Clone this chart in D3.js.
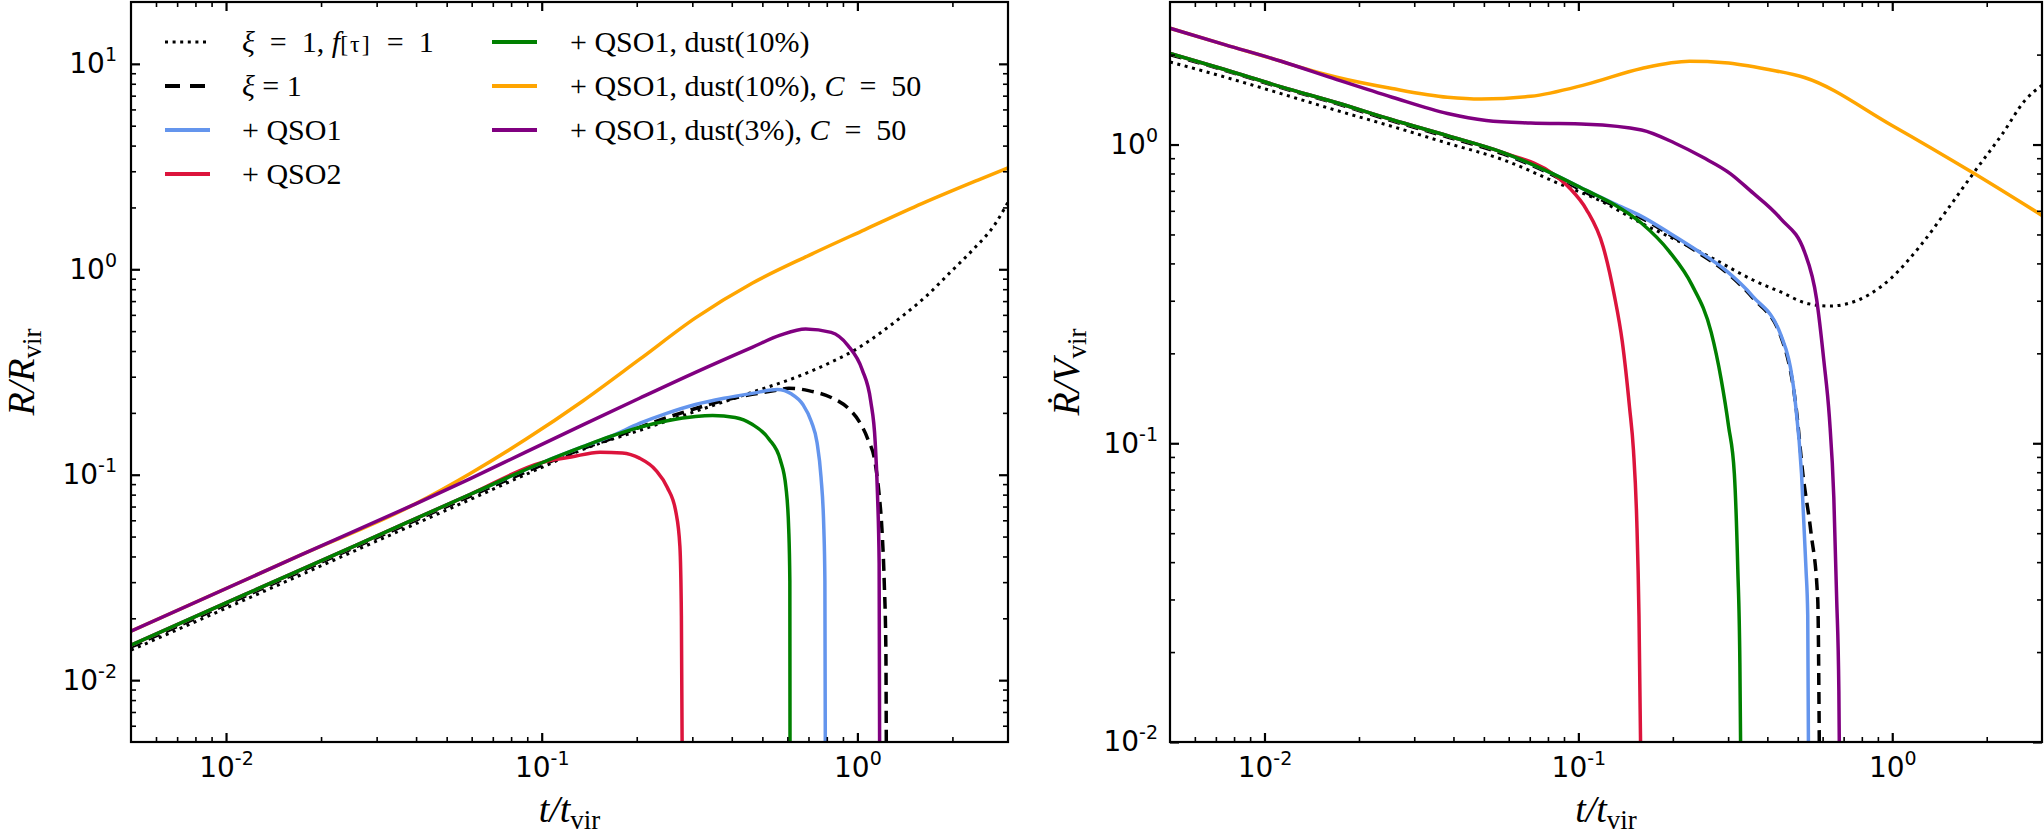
<!DOCTYPE html>
<html><head><meta charset="utf-8">
<script src="https://cdn.jsdelivr.net/npm/d3@7"></script>
<style>body{margin:0;background:#fff}svg{display:block}</style>
</head><body>
<svg id="chart" width="2044" height="836"></svg>
<script>
// ---------------- DATA ----------------
// Left panel: R / R_vir vs t / t_vir
const tL_dot   = [0.005, 0.0114, 0.026, 0.0592, 0.101, 0.135, 0.204, 0.307, 0.464, 0.645, 0.826, 1.015, 1.196, 1.411, 1.663, 1.961, 2.312, 2.727, 3.0];
const rL_dot   = [0.0140, 0.0245, 0.0431, 0.0756, 0.1093, 0.1327, 0.1643, 0.2034, 0.2519, 0.2998, 0.353, 0.4171, 0.4966, 0.6031, 0.7464, 0.9605, 1.236, 1.654, 2.12];
const tL_dash  = [0.005, 0.0114, 0.026, 0.0592, 0.101, 0.135, 0.166, 0.204, 0.25, 0.307, 0.378, 0.464, 0.558, 0.606, 0.70, 0.826, 0.934, 1.015, 1.079, 1.139, 1.172, 1.196, 1.216, 1.231, 1.236];
const rL_dash  = [0.0145, 0.0255, 0.0448, 0.0785, 0.112, 0.134, 0.150, 0.170, 0.190, 0.210, 0.230, 0.246, 0.258, 0.2638, 0.2567, 0.2376, 0.211, 0.181, 0.1491, 0.1136, 0.0801, 0.0544, 0.0304, 0.01398, 0.003];
const tL_blue  = [0.005, 0.0114, 0.026, 0.0592, 0.101, 0.135, 0.166, 0.204, 0.25, 0.307, 0.378, 0.464, 0.558, 0.619, 0.672, 0.715, 0.745, 0.767, 0.783, 0.789, 0.792];
const rL_blue  = [0.0148, 0.026, 0.0456, 0.0801, 0.115, 0.137, 0.154, 0.1776, 0.1995, 0.2198, 0.2357, 0.2489, 0.2598, 0.247, 0.2198, 0.1811, 0.1434, 0.0973, 0.0544, 0.0304, 0.003];
const tL_red   = [0.005, 0.0114, 0.026, 0.0592, 0.101, 0.124, 0.153, 0.18, 0.204, 0.23, 0.25, 0.266, 0.274, 0.277, 0.279];
const rL_red   = [0.0148, 0.026, 0.0456, 0.0801, 0.115, 0.122, 0.1287, 0.1276, 0.1204, 0.1051, 0.0866, 0.066, 0.0448, 0.0206, 0.003];
const tL_green = [0.005, 0.0114, 0.026, 0.0592, 0.101, 0.135, 0.166, 0.204, 0.25, 0.307, 0.348, 0.41, 0.464, 0.525, 0.57, 0.594, 0.606, 0.611, 0.612];
const rL_green = [0.0148, 0.026, 0.0456, 0.0801, 0.115, 0.137, 0.154, 0.17, 0.183, 0.192, 0.194, 0.19, 0.176, 0.149, 0.118, 0.0866, 0.0544, 0.0304, 0.003];
const tL_orange = [0.005, 0.0172, 0.0392, 0.0592, 0.0893, 0.135, 0.204, 0.307, 0.464, 0.700, 1.057, 1.60, 2.41, 3.0];
const rL_orange = [0.0173, 0.0406, 0.0713, 0.1012, 0.1491, 0.2285, 0.364, 0.580, 0.855, 1.166, 1.561, 2.087, 2.719, 3.12];
const tL_purple = [0.005, 0.0172, 0.0392, 0.0592, 0.0893, 0.135, 0.204, 0.307, 0.464, 0.570, 0.686, 0.826, 0.934, 1.036, 1.102, 1.139, 1.158, 1.172, 1.177];
const rL_purple = [0.0173, 0.0406, 0.0713, 0.0954, 0.1292, 0.1748, 0.2357, 0.3152, 0.4171, 0.4777, 0.5123, 0.4927, 0.4252, 0.324, 0.2285, 0.1434, 0.0801, 0.0369, 0.003];

// Right panel: dR/dt / V_vir vs t / t_vir
const tR_dot   = [0.005, 0.00751, 0.0113, 0.0170, 0.0255, 0.0383, 0.0576, 0.0865, 0.120, 0.159, 0.212, 0.270, 0.360, 0.441, 0.541, 0.636, 0.718, 0.846, 0.995, 1.22, 1.50, 1.83, 2.25, 2.64, 3.0];
const vR_dot   = [1.89, 1.68, 1.48, 1.30, 1.15, 1.01, 0.889, 0.741, 0.641, 0.545, 0.471, 0.414, 0.352, 0.321, 0.293, 0.288, 0.293, 0.315, 0.358, 0.454, 0.607, 0.812, 1.09, 1.40, 1.58];
const tR_dash  = [0.005, 0.00751, 0.0113, 0.0170, 0.0255, 0.0383, 0.0576, 0.0830, 0.106, 0.130, 0.159, 0.195, 0.239, 0.293, 0.360, 0.441, 0.494, 0.519, 0.551, 0.579, 0.586];
const vR_dash  = [2.0, 1.77, 1.55, 1.37, 1.20, 1.06, 0.93, 0.79, 0.69, 0.625, 0.567, 0.5, 0.437, 0.377, 0.306, 0.229, 0.1316, 0.0791, 0.0502, 0.0299, 0.009];
const tR_blue  = [0.005, 0.00751, 0.0113, 0.0170, 0.0255, 0.0383, 0.0576, 0.0830, 0.106, 0.130, 0.159, 0.195, 0.239, 0.293, 0.360, 0.441, 0.490, 0.514, 0.531, 0.538, 0.541];
const vR_blue  = [2.02, 1.78, 1.56, 1.38, 1.21, 1.07, 0.940, 0.798, 0.702, 0.634, 0.575, 0.506, 0.442, 0.381, 0.3097, 0.2314, 0.140, 0.0791, 0.0382, 0.0265, 0.009];
const tR_red   = [0.005, 0.00751, 0.0113, 0.0170, 0.0255, 0.0383, 0.0576, 0.0830, 0.0938, 0.106, 0.120, 0.130, 0.138, 0.1456, 0.1498, 0.1535, 0.156, 0.158];
const vR_red   = [2.02, 1.78, 1.56, 1.38, 1.21, 1.07, 0.940, 0.798, 0.715, 0.607, 0.454, 0.315, 0.219, 0.1316, 0.0948, 0.055, 0.0265, 0.009];
const tR_green = [0.005, 0.00751, 0.0113, 0.0170, 0.0255, 0.0383, 0.0576, 0.0830, 0.106, 0.130, 0.159, 0.195, 0.230, 0.265, 0.285, 0.301, 0.314, 0.322, 0.327, 0.329];
const vR_green = [2.02, 1.78, 1.56, 1.38, 1.21, 1.07, 0.940, 0.798, 0.702, 0.630, 0.545, 0.438, 0.339, 0.235, 0.164, 0.114, 0.0791, 0.0382, 0.0184, 0.009];
const tR_orange = [0.005, 0.00751, 0.0113, 0.0128, 0.0170, 0.0255, 0.0383, 0.0491, 0.0705, 0.106, 0.159, 0.226, 0.293, 0.407, 0.525, 0.995, 1.83, 3.0];
const vR_orange = [2.45, 2.156, 1.90, 1.823, 1.68, 1.54, 1.44, 1.42, 1.45, 1.59, 1.797, 1.90, 1.88, 1.78, 1.677, 1.161, 0.798, 0.579];
const tR_purple = [0.005, 0.00751, 0.0113, 0.0170, 0.0255, 0.0383, 0.0509, 0.0705, 0.106, 0.159, 0.2033, 0.2492, 0.3055, 0.3523, 0.441, 0.525, 0.574, 0.6055, 0.6306, 0.6514, 0.6649, 0.676, 0.6787];
const vR_purple = [2.45, 2.156, 1.90, 1.65, 1.44, 1.27, 1.204, 1.18, 1.17, 1.119, 1.01, 0.906, 0.798, 0.702, 0.565, 0.438, 0.304, 0.189, 0.122, 0.0659, 0.0307, 0.0148, 0.009];

// Ticks
const xTickVals = [0.01, 0.1, 1];
const xTickExps = ["-2", "-1", "0"];
const yLTickVals = [0.01, 0.1, 1, 10];
const yLTickExps = ["-2", "-1", "0", "1"];
const yRTickVals = [0.01, 0.1, 1];
const yRTickExps = ["-2", "-1", "0"];

// Legend labels (rich text pieces: [text, style])
const legendLabels = [
  [["ξ", "i"], ["\u2002=\u20021, ", "r"], ["f", "i"], ["[τ]", "s"], ["\u2002=\u20021", "r"]],
  [["ξ", "i"], [" = 1", "r"]],
  [["+ QSO1", "r"]],
  [["+ QSO2", "r"]],
  [["+ QSO1, dust(10%)", "r"]],
  [["+ QSO1, dust(10%), ", "r"], ["C", "i"], ["\u2002=\u200250", "r"]],
  [["+ QSO1, dust(3%), ", "r"], ["C", "i"], ["\u2002=\u200250", "r"]]
];

// ---------------- STYLE ----------------
const styles = [
  {color: "#000", width: 3, dash: "3,4.6", lw: 3, ldash: "3,4.6"},
  {color: "#000", width: 3.5, dash: "12,7", lw: 4, ldash: "15,10"},
  {color: "#6495ED", width: 3.5},
  {color: "#DC143C", width: 3.5},
  {color: "#008000", width: 3.5},
  {color: "#FFA500", width: 3.5},
  {color: "#800080", width: 3.5}
];

const zip = (a, b) => a.map((v, i) => [v, b[i]]);
const leftSeries = [zip(tL_dot, rL_dot), zip(tL_dash, rL_dash), zip(tL_blue, rL_blue), zip(tL_red, rL_red), zip(tL_green, rL_green), zip(tL_orange, rL_orange), zip(tL_purple, rL_purple)];
const rightSeries = [zip(tR_dot, vR_dot), zip(tR_dash, vR_dash), zip(tR_blue, vR_blue), zip(tR_red, vR_red), zip(tR_green, vR_green), zip(tR_orange, vR_orange), zip(tR_purple, vR_purple)];

const svg = d3.select("#chart");
const TICKFONT = "'DejaVu Sans', sans-serif";
const SERIF = "'Liberation Serif', 'DejaVu Serif', serif";

function minorTicks(domain) {
  const out = [];
  for (let k = -4; k <= 2; k++) for (let m = 2; m <= 9; m++) {
    const v = m * Math.pow(10, k);
    if (v > domain[0] * 1.0001 && v < domain[1] * 0.9999) out.push(v);
  }
  return out;
}

function drawPanel(id, x, y, series, xTV, xTE, yTV, yTE, yPad) {
  const [x0, x1] = x.range(), [y1, y0] = y.range();
  const g = svg.append("g");
  g.append("clipPath").attr("id", "clip" + id).append("rect")
    .attr("x", x0).attr("y", y0).attr("width", x1 - x0).attr("height", y1 - y0);
  const line = d3.line().x(d => x(d[0])).y(d => y(d[1])).curve(d3.curveMonotoneX);
  const lg = g.append("g").attr("clip-path", `url(#clip${id})`);
  series.forEach((s, i) => {
    const st = styles[i];
    lg.append("path").datum(s).attr("d", line).attr("fill", "none")
      .attr("stroke", st.color).attr("stroke-width", st.width)
      .attr("stroke-dasharray", st.dash || null)
      .attr("stroke-linejoin", "round");
  });

  const majorLen = 9, minorLen = 5;
  const axes = [
    {ax: d3.axisBottom(x), tr: `translate(0,${y1})`, sc: x},
    {ax: d3.axisTop(x), tr: `translate(0,${y0})`, sc: x},
    {ax: d3.axisLeft(y), tr: `translate(${x0},0)`, sc: y},
    {ax: d3.axisRight(y), tr: `translate(${x1},0)`, sc: y}
  ];
  axes.forEach(a => {
    const minor = a.ax.tickValues(minorTicks(a.sc.domain())).tickSize(-minorLen).tickFormat("");
    const gm = g.append("g").attr("transform", a.tr).call(minor);
    gm.select(".domain").remove();
    gm.selectAll(".tick line").attr("stroke", "#000").attr("stroke-width", 1.6);
  });
  const axes2 = [
    {ax: d3.axisBottom(x), tr: `translate(0,${y1})`, tv: xTV, ex: xTE, lab: true, pad: 15},
    {ax: d3.axisTop(x), tr: `translate(0,${y0})`, tv: xTV, lab: false},
    {ax: d3.axisLeft(y), tr: `translate(${x0},0)`, tv: yTV, ex: yTE, lab: true, pad: yPad},
    {ax: d3.axisRight(y), tr: `translate(${x1},0)`, tv: yTV, lab: false}
  ];
  axes2.forEach(a => {
    const ax = a.ax.tickValues(a.tv).tickSize(-majorLen).tickPadding(a.pad || 3).tickFormat("");
    const ga = g.append("g").attr("transform", a.tr).call(ax);
    ga.select(".domain").remove();
    ga.selectAll(".tick line").attr("stroke", "#000").attr("stroke-width", 2.2);
    if (a.lab) {
      ga.selectAll(".tick text").each(function(d, i) {
        const t = d3.select(this).attr("fill", "#000").attr("font-family", TICKFONT).attr("font-size", 28);
        t.append("tspan").text("10");
        t.append("tspan").attr("font-size", 19).attr("dy", -12).text(a.ex[i]);
      });
    } else {
      ga.selectAll(".tick text").remove();
    }
  });
  g.append("rect").attr("x", x0).attr("y", y0).attr("width", x1 - x0).attr("height", y1 - y0)
    .attr("fill", "none").attr("stroke", "#000").attr("stroke-width", 2.2);
  return g;
}

const xL = d3.scaleLog().domain([0.005, 3]).range([131, 1008]);
const yL = d3.scaleLog().domain([0.005, 20]).range([742, 2]);
const xR = d3.scaleLog().domain([0.005, 3]).range([1170, 2042]);
const yR = d3.scaleLog().domain([0.01, 3]).range([742, 2]);

drawPanel("L", xL, yL, leftSeries, xTickVals, xTickExps, yLTickVals, yLTickExps, 14);
drawPanel("R", xR, yR, rightSeries, xTickVals, xTickExps, yRTickVals, yRTickExps, 12);

// Axis labels
function xLabel(cx) {
  const t = svg.append("text").attr("x", cx).attr("y", 822).attr("text-anchor", "middle")
    .attr("font-family", SERIF).attr("font-size", 38).attr("fill", "#000");
  t.append("tspan").attr("font-style", "italic").text("t/t");
  t.append("tspan").attr("font-size", 27).attr("dy", 7).text("vir");
}
xLabel((131 + 1008) / 2);
xLabel((1170 + 2042) / 2);

function yLabel(cx, main1, main2) {
  const t = svg.append("text").attr("transform", `translate(${cx},372) rotate(-90)`).attr("text-anchor", "middle")
    .attr("font-family", SERIF).attr("font-size", 38).attr("fill", "#000");
  t.append("tspan").attr("font-style", "italic").text(main1 + "/" + main2);
  t.append("tspan").attr("font-size", 27).attr("dy", 7).text("vir");
}
yLabel(34, "R", "R");
yLabel(1079, "Ṙ", "V");

// Legend
const legRowsY = [42, 86, 130, 174];
const legCols = [{x0: 165, x1: 210, tx: 242}, {x0: 492, x1: 537, tx: 570}];
legendLabels.forEach((lab, i) => {
  const col = i < 4 ? legCols[0] : legCols[1];
  const ry = legRowsY[i < 4 ? i : i - 4];
  const st = styles[i];
  svg.append("line").attr("x1", col.x0).attr("x2", col.x1).attr("y1", ry).attr("y2", ry)
    .attr("stroke", st.color).attr("stroke-width", st.lw || 4)
    .attr("stroke-dasharray", st.ldash || null);
  const t = svg.append("text").attr("x", col.tx).attr("y", ry + 10)
    .attr("font-family", SERIF).attr("font-size", 30).attr("fill", "#000");
  lab.forEach(p => {
    const ts = t.append("tspan").text(p[0]);
    if (p[1] === "i") ts.attr("font-style", "italic");
    if (p[1] === "s") ts.attr("font-size", 24).attr("letter-spacing", 2);
  });
});
</script>
</body></html>
